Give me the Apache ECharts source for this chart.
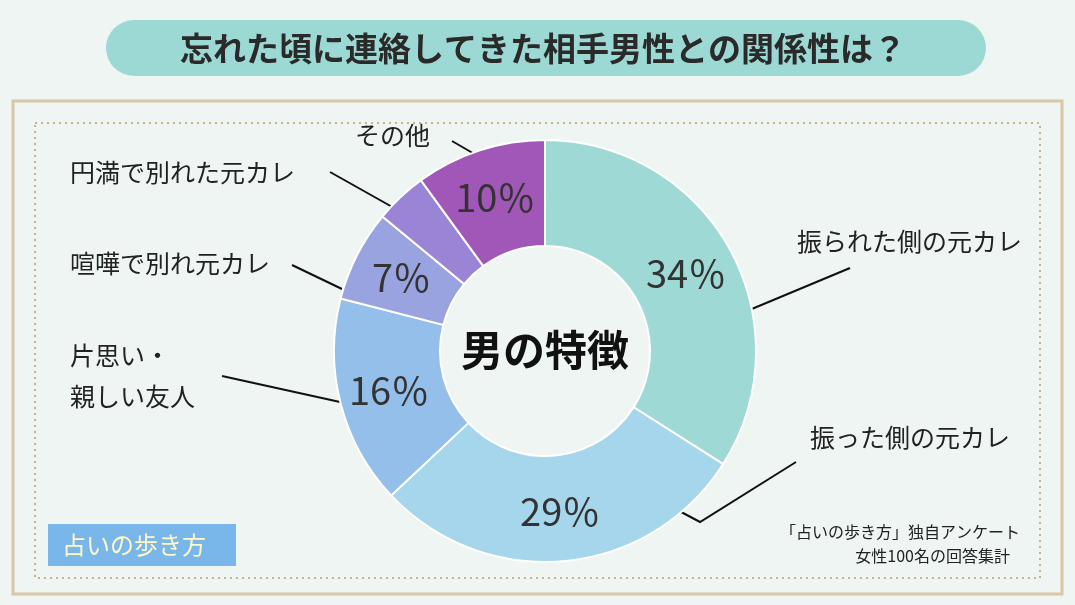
<!DOCTYPE html>
<html><head><meta charset="utf-8">
<script src="https://cdn.jsdelivr.net/npm/echarts@6/dist/echarts.min.js"></script>
<style>html,body{margin:0;padding:0;background:#eef5f2}#c{width:1075px;height:605px}</style>
</head><body><div id="c"></div>
<script>
const categories = ['振られた側の元カレ','振った側の元カレ','片思い・親しい友人','喧嘩で別れ元カレ','円満で別れた元カレ','その他'];
const values = [34, 29, 16, 7, 4, 10];
const colors = ['#9fd9d6','#a5d6ec','#93bfea','#99a3df','#9a84d5','#a057b8'];
const F = '"Noto Sans CJK JP", "Noto Sans", sans-serif';
const chart = echarts.init(document.getElementById('c'));
function txt(x,y,t,o){return Object.assign({type:'text',x:x,y:y,style:{text:t,font:'25px '+F,fill:'#222',textVerticalAlign:'middle'}},o||{});}
function ln(pts){return {type:'polyline',shape:{points:pts},style:{stroke:'#111',lineWidth:2,fill:null}};}
chart.setOption({
  backgroundColor:'#eef5f2',
  graphic:[
    {type:'rect',shape:{x:106,y:20,width:880,height:56,r:28},style:{fill:'#9dd9d4'}},
    {type:'text',x:543,y:48,style:{text:'忘れた頃に連絡してきた相手男性との関係性は？',font:'bold 33px '+F,fill:'#2a2a2a',textAlign:'center',textVerticalAlign:'middle'}},
    {type:'rect',shape:{x:13,y:101,width:1049,height:493},style:{fill:null,stroke:'#d8c8a6',lineWidth:3}},
    {type:'rect',shape:{x:35,y:123,width:1005,height:455},style:{fill:null,stroke:'#c9b48a',lineWidth:2,lineDash:[2,4]}},
    txt(545,350,'男の特徴',{style:{text:'男の特徴',font:'bold 42px '+F,fill:'#111',textAlign:'center',textVerticalAlign:'middle'}}),
    txt(797,241,'振られた側の元カレ'), ln([[735,316],[850,268]]),
    txt(810,437,'振った側の元カレ'), ln([[668,505],[700,522],[796,462]]),
    txt(70,355,'片思い・'), txt(70,396,'親しい友人'), ln([[340,402],[222,376]]),
    txt(70,263,'喧嘩で別れ元カレ'), ln([[342,289],[292,265]]),
    txt(70,172,'円満で別れた元カレ'), ln([[403,213],[330,172]]),
    txt(355,135,'その他'), ln([[495,166],[452,141]]),
    {type:'text',x:1020,y:532,style:{text:'「占いの歩き方」独自アンケート',font:'16px '+F,fill:'#222',textAlign:'right',textVerticalAlign:'middle'}},
    {type:'text',x:1010,y:556,style:{text:'女性100名の回答集計',font:'16px '+F,fill:'#222',textAlign:'right',textVerticalAlign:'middle'}},
    {type:'rect',shape:{x:48,y:524,width:188,height:42},style:{fill:'#79b7ea'}},
    {type:'text',x:62,y:545,style:{text:'占いの歩き方',font:'24px '+F,fill:'#fff8c8',textVerticalAlign:'middle'}}
  ],
  series:[{
    type:'pie', center:[545,351], radius:[105,211], startAngle:90, clockwise:true,
    silent:true, animation:false,
    itemStyle:{borderColor:'#fff',borderWidth:2},
    label:{show:true,position:'inside',formatter:p=>p.value+'％',fontSize:38,fontFamily:F,color:'#333'},
    labelLine:{show:false},
    data:categories.map((c,i)=>({name:c,value:values[i],itemStyle:{color:colors[i]}}))
  }]
});
</script></body></html>
